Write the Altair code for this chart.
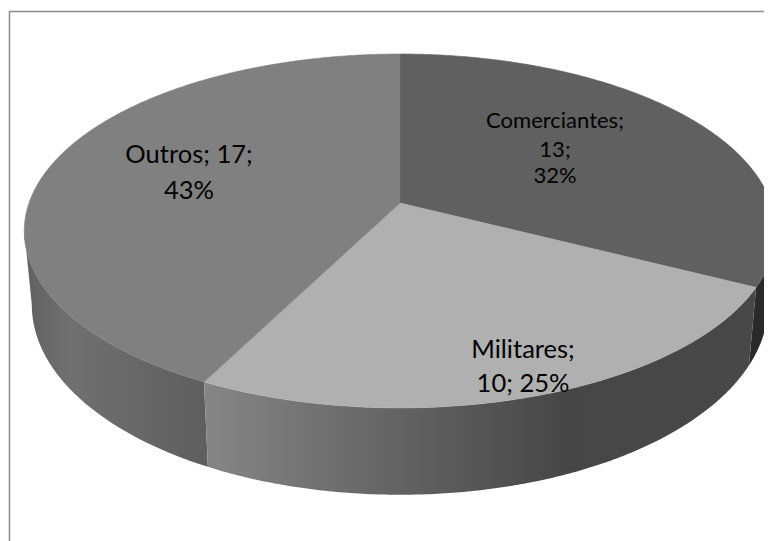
import math
import altair as alt

# ---- chart values ----
categories = ["Comerciantes", "Militares", "Outros"]
values = [13, 10, 17]
percents = ["32%", "25%", "43%"]
top_colors = ["#606060", "#b0b0b0", "#808080"]
label_rows = [
    ["Comerciantes;", "13;", "32%"],
    ["Militares;", "10; 25%"],
    ["Outros; 17;", "43%"],
]

# ---- layout (page pixels) of the perspective disc ----
APEX_X, APEX_Y = 400.0, 203.0
RADIUS_X = 371.0
PERSP_P, PERSP_R = -140.45, 0.158
DEPTH_XSCALE, DEPTH_YSCALE, DEPTH_YSHIFT = 0.98, 1.074, 56.7
LEFT_TANGENT, RIGHT_TANGENT = 261.0, 99.0


def top_point(deg):
    a = math.radians(deg)
    u, v = math.sin(a), math.cos(a)
    d = PERSP_R * v + 1
    return [APEX_X + RADIUS_X * u / d, (PERSP_P * v + APEX_Y) / d]


def bottom_point(deg):
    x, y = top_point(deg)
    return [APEX_X + (x - APEX_X) * DEPTH_XSCALE, y * DEPTH_YSCALE + DEPTH_YSHIFT]


def sweep(a0, a1):
    n = max(2, int(abs(a1 - a0) * 2))
    return [a0 + (a1 - a0) * i / n for i in range(n + 1)]


def polygon(name, ring):
    return {
        "type": "Feature",
        "properties": {"name": name},
        "geometry": {"type": "Polygon", "coordinates": [ring + [ring[0]]]},
    }


def wall(name, a0, a1):
    degs = sweep(a0, a1)
    ring = [top_point(d) for d in degs] + [bottom_point(d) for d in reversed(degs)]
    return polygon(name, ring)


total = sum(values)
edges = [0.0]
for v in values:
    edges.append(edges[-1] + 360.0 * v / total)

faces = []
for name, a0, a1 in zip(categories, edges[:-1], edges[1:]):
    faces.append(polygon(name, [[APEX_X, APEX_Y]] + [top_point(d) for d in sweep(a0, a1)]))

PROJ = dict(type="identity", scale=1, translate=[-8, -8])


def gradient(stops):
    return alt.Gradient(
        gradient="linear", x1=0, x2=1, y1=0, y2=0,
        stops=[alt.GradientStop(offset=o, color=c) for o, c in stops],
    )


def wall_layer(feature, stops):
    return alt.Chart(alt.Data(values=[feature])).mark_geoshape(
        fill=gradient(stops), strokeWidth=0
    ).project(**PROJ)


wall_right = wall_layer(wall("Comerciantes", RIGHT_TANGENT, edges[1]),
                        [(0, "#2a2a2a"), (1, "#2a2a2a")])
wall_front = wall_layer(wall("Militares", edges[1], edges[2]),
                        [(0, "#868686"), (0.34, "#646464"), (0.66, "#464646"), (1, "#484848")])
wall_left = wall_layer(wall("Outros", edges[2], LEFT_TANGENT),
                       [(0, "#606060"), (0.25, "#707070"), (1, "#5e5e5e")])

top = alt.Chart(alt.Data(values=faces)).mark_geoshape(strokeWidth=0.6).encode(
    fill=alt.Fill("properties.name:N",
                  scale=alt.Scale(domain=categories, range=top_colors), legend=None),
    stroke=alt.Stroke("properties.name:N",
                      scale=alt.Scale(domain=categories, range=top_colors), legend=None),
).project(**PROJ)

# frame: open on the right and at the bottom, as in the picture
frame_data = [{
    "type": "Feature",
    "properties": {},
    "geometry": {"type": "LineString", "coordinates": [[9.5, 541], [9.5, 11.5], [772, 11.5]]},
}]
frame = alt.Chart(alt.Data(values=frame_data)).mark_geoshape(
    filled=False, stroke="#8c8c8c", strokeWidth=1.5
).project(**PROJ)

# labels, one row per text line
anchors = [
    (555, [128, 157, 183], 22),
    (523, [358, 392], 25.5),
    (189, [163, 199], 25.5),
]
rows = []
for lines, (ax, ys, size) in zip(label_rows, anchors):
    for line, ay in zip(lines, ys):
        rows.append({"t": line, "lon": ax, "lat": ay, "s": size})

labels = alt.Chart(alt.Data(values=rows)).mark_text(
    font="Lato", color="#000000", align="center", baseline="alphabetic"
).encode(
    longitude="lon:Q", latitude="lat:Q", text="t:N",
    size=alt.Size("s:Q", scale=None, legend=None),
).project(**PROJ)

chart = alt.layer(frame, wall_right, wall_left, wall_front, top, labels).properties(
    width=756, height=533, padding=0, autosize=alt.AutoSizeParams(type="none"),
    background="#ffffff",
).configure_view(strokeWidth=0)

chart.save("out.html", embed_options={"renderer": "svg", "actions": False})
